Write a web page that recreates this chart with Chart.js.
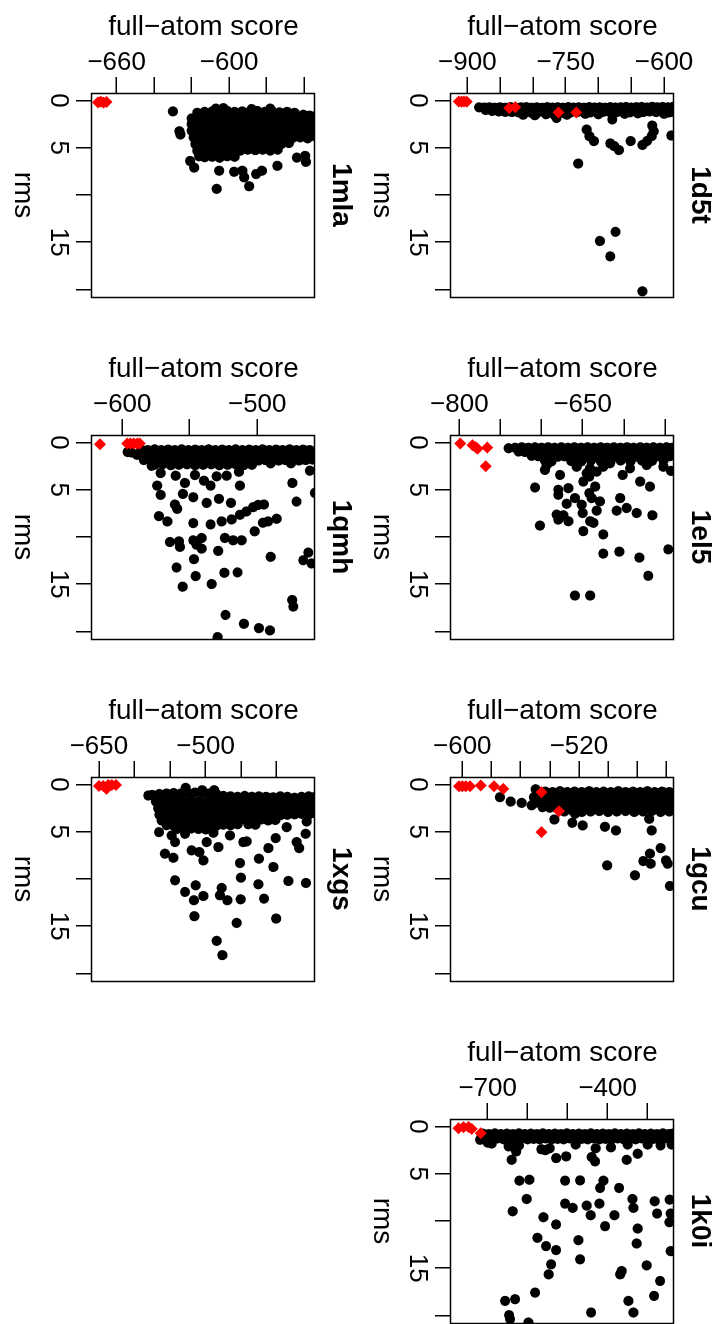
<!DOCTYPE html>
<html><head><meta charset="utf-8">
<script src="https://cdn.jsdelivr.net/npm/chart.js@4.4.0/dist/chart.umd.min.js"></script>
<style>
html,body{margin:0;padding:0;background:#fff;width:713px;height:1324px;overflow:hidden;}
#rot{position:absolute;left:0;top:0;width:1324px;height:713px;transform-origin:0 0;transform:translateX(713px) rotate(90deg);}
#rot canvas{position:absolute;}
</style></head><body><div id="rot"></div>
<script>
// ---------- axis ticks ----------
const rmsTicks = [0,5,10,15,20];
const rmsTickLabels = [0,5,15];
const rmsRange = [-0.8,20.8];

const ticks_1d5t = [-900,-850,-800,-750,-700,-650,-600], labels_1d5t = [-900,-750,-600], range_1d5t = [-924.9,-584.8];
const ticks_1el5 = [-800,-750,-700,-650,-600,-550], labels_1el5 = [-800,-650], range_1el5 = [-810.1,-539.0];
const ticks_1gcu = [-600,-580,-560,-540,-520,-500,-480,-460], labels_1gcu = [-600,-520], range_1gcu = [-607.75,-454.8];
const ticks_1k0i = [-700,-600,-500,-400,-300], labels_1k0i = [-700,-400], range_1k0i = [-791.75,-234.25];
const ticks_1mla = [-660,-640,-620,-600,-580,-560], labels_1mla = [-660,-600], range_1mla = [-673.2,-554.1];
const ticks_1qmh = [-600,-550,-500], labels_1qmh = [-600,-500], range_1qmh = [-622.4,-457.2];
const ticks_1xgs = [-650,-600,-550,-500,-450,-400], labels_1xgs = [-650,-500], range_1xgs = [-659.8,-346.2];

// ---------- data: [full-atom score, rms] ----------
const red_1d5t = [[-913,0.1],[-909,0.12],[-905,0.1],[-901,0.12],[-836,0.8],[-827,0.7],[-761,1.26],[-734,1.26]];
const black_1d5t = [
[-882,0.72],[-874,0.74],[-866,0.72],[-858,0.76],[-850,0.72],[-842,0.76],[-834,0.7],[-826,0.75],[-818,0.72],[-810,0.7],[-802,0.76],[-794,0.72],[-786,0.76],[-778,0.7],[-770,0.75],[-762,0.72],[-754,0.76],[-746,0.7],[-738,0.75],[-730,0.72],[-722,0.76],[-714,0.7],[-706,0.74],[-698,0.72],[-690,0.76],[-682,0.7],[-674,0.74],[-666,0.72],[-658,0.68],[-650,0.74],[-642,0.7],[-634,0.68],[-626,0.74],[-618,0.66],[-610,0.72],[-602,0.68],[-594,0.72],[-586,0.66],
[-872,1.0],[-862,1.1],[-852,1.15],[-842,1.2],[-832,1.22],[-822,1.25],[-812,1.22],[-802,1.3],[-792,1.25],[-782,1.22],[-772,1.3],[-762,1.25],[-752,1.35],[-742,1.25],[-732,1.22],[-722,1.2],[-712,1.25],[-702,1.22],[-692,1.18],[-682,1.25],[-672,1.22],[-662,1.18],[-652,1.25],[-642,1.18],[-632,1.22],[-622,1.15],[-612,1.22],[-602,1.18],[-592,1.25],[-586,1.18],
[-815,1.5],[-797,1.55],[-780,1.45],[-766,1.6],[-764,1.85],[-748,1.5],[-720,1.4],[-700,1.45],[-679,2.0],[-660,1.4],[-640,1.35],[-600,1.4],
[-718,3.07],[-714,3.77],[-707,4.29],[-682,4.54],[-676,4.82],[-669,5.24],[-651,4.29],[-633,4.7],[-626,4.29],[-619,3.77],[-616,3.25],[-618,2.65],[-589,3.7],[-731,6.67],[-698,14.87],[-674,13.9],[-682,16.5],[-633,20.2]
];

const red_1el5 = [[-799,0.1],[-784,0.28],[-780,0.5],[-778,0.65],[-766,0.53],[-768,2.5]];
const black_1el5 = [
[-740,0.6],[-732,0.55],[-724,0.5],[-716,0.55],[-708,0.5],[-700,0.55],[-692,0.5],[-684,0.55],[-676,0.5],[-668,0.55],[-660,0.5],[-652,0.55],[-644,0.5],[-636,0.55],[-628,0.5],[-620,0.55],[-612,0.5],[-604,0.55],[-596,0.5],[-588,0.55],[-580,0.5],[-572,0.55],[-564,0.5],[-556,0.55],[-548,0.5],[-541,0.55],
[-728,0.95],[-720,1.0],[-712,1.05],[-704,1.0],[-696,1.05],[-688,1.0],[-680,1.05],[-672,1.0],[-664,1.05],[-656,1.0],[-648,1.05],[-640,1.0],[-632,1.05],[-624,1.0],[-616,1.05],[-608,1.0],[-600,1.05],[-592,1.0],[-584,1.05],[-576,1.0],[-568,1.05],[-560,1.0],[-552,1.05],[-544,1.0],
[-712,1.4],[-704,1.45],[-696,1.5],[-688,1.45],[-680,1.5],[-672,1.45],[-664,1.5],[-656,1.45],[-648,1.5],[-640,1.45],[-632,1.5],[-624,1.45],[-616,1.5],[-608,1.45],[-600,1.5],[-592,1.45],[-584,1.5],[-576,1.45],[-568,1.5],[-560,1.45],[-552,1.5],[-544,1.45],
[-696,1.9],[-688,2.0],[-664,1.95],[-652,2.0],[-640,1.9],[-628,2.0],[-616,1.95],[-604,1.9],[-592,2.0],[-578,1.9],[-566,1.95],[-552,1.9],
[-693.8,2.38],[-695.9,2.9],[-677.6,3.43],[-708,4.76],[-679.7,5.0],[-679.7,5.53],[-667.5,4.83],[-669.5,6.48],[-681.7,7.63],[-679.7,8.16],[-673.6,7.7],[-667.5,8.33],[-702,8.79],[-659.4,5.88],[-651.3,6.58],[-650,7.46],[-649.3,4.13],[-645.2,3.26],[-642,3.6],[-635,4.66],[-642,5.36],[-639.1,5.88],[-629,6.23],[-633,7.21],[-637,8.5],[-641,8.33],[-649.3,9.38],[-625,9.73],[-625,11.76],[-605.5,11.55],[-604.6,5.88],[-608.7,7.21],[-596.6,6.93],[-601.5,3.43],[-584.4,7.46],[-580.3,4.13],[-568.2,4.66],[-565.3,7.7],[-581.2,12.18],[-570.3,14.11],[-546,11.31],[-542.7,3.0],[-659.4,16.2],[-641,16.2],[-657.4,2.56],[-641.2,2.73],[-625,2.56],[-633,3.08],[-616.9,2.2],[-592.5,2.73],[-572.3,2.38],[-552,2.56]
];

const red_1gcu = [[-602.3,0.18],[-600,0.18],[-597.7,0.18],[-594.7,0.18],[-587.4,0.1],[-578.3,0.18],[-571.9,0.46],[-545.6,0.81],[-533.7,2.82],[-545.6,5.04]];
const black_1gcu = [
[-574.2,1.34],[-566.9,1.8],[-559.3,1.94],[-552.5,2.2],[-549.7,0.5],
[-548,0.8],[-543,0.75],[-538,0.8],[-533,0.7],[-528,0.8],[-523,0.75],[-518,0.8],[-513,0.7],[-508,0.8],[-503,0.75],[-498,0.8],[-493,0.7],[-488,0.8],[-483,0.75],[-478,0.8],[-473,0.7],[-468,0.8],[-463,0.75],[-458,0.8],
[-551,1.35],[-546,1.3],[-541,1.4],[-536,1.35],[-531,1.3],[-526,1.4],[-521,1.35],[-516,1.3],[-511,1.4],[-506,1.35],[-501,1.3],[-496,1.4],[-491,1.35],[-486,1.3],[-481,1.4],[-476,1.35],[-471,1.3],[-466,1.4],[-461,1.35],[-456,1.3],
[-549,1.9],[-544,1.85],[-539,1.95],[-534,1.9],[-529,1.85],[-524,1.95],[-519,1.9],[-514,1.85],[-509,1.95],[-504,1.9],[-499,1.85],[-494,1.95],[-489,1.9],[-484,1.85],[-479,1.95],[-474,1.9],[-469,1.85],[-464,1.95],[-459,1.9],[-456,1.85],
[-545,2.4],[-540,2.45],[-535,2.5],[-530,2.4],[-525,2.45],[-520,2.5],[-515,2.4],[-510,2.45],[-505,2.5],[-500,2.4],[-495,2.45],[-490,2.5],[-485,2.4],[-480,2.45],[-475,2.5],[-470,2.4],[-465,2.45],[-460,2.5],[-456,2.4],
[-530,2.85],[-524,2.8],[-518,2.9],[-512,2.85],[-506,2.8],[-500,2.9],[-494,2.85],[-488,2.8],[-482,2.9],[-476,2.85],[-470,2.8],[-464,2.9],[-458,2.85],
[-536.9,3.7],[-524.6,4.05],[-517.5,4.33],[-502.2,4.47],[-494.6,4.86],[-500.6,8.56],[-481.6,9.61],[-471.8,3.63],[-470.2,4.86],[-464,6.73],[-471.4,7.32],[-470.9,8.38],[-475.9,8.1],[-460.3,8.03],[-459.2,8.38],[-457.6,10.74],[-522.7,3.1]
];

const red_1k0i = [[-773.3,0.18],[-760.8,0.07],[-748.3,0.05],[-740,0.25],[-717.5,0.7]];
const black_1k0i = [
[-715,0.88],[-719,1.4],
[-712,0.75],[-697,0.8],[-682,0.72],[-667,0.8],[-652,0.75],[-637,0.8],[-622,0.72],[-607,0.8],[-592,0.75],[-577,0.8],[-562,0.72],[-547,0.8],[-532,0.75],[-517,0.8],[-502,0.72],[-487,0.8],[-472,0.75],[-457,0.8],[-442,0.72],[-427,0.8],[-412,0.75],[-397,0.8],[-382,0.72],[-367,0.8],[-352,0.75],[-337,0.8],[-322,0.72],[-307,0.8],[-292,0.75],[-277,0.8],[-262,0.72],[-247,0.8],[-238,0.75],
[-705,1.3],[-690,1.35],[-675,1.25],[-660,1.35],[-645,1.3],[-630,1.35],[-615,1.25],[-600,1.35],[-585,1.3],[-570,1.35],[-555,1.25],[-540,1.35],[-525,1.3],[-510,1.35],[-495,1.25],[-480,1.35],[-465,1.3],[-450,1.35],[-435,1.25],[-420,1.35],[-405,1.3],[-390,1.35],[-375,1.25],[-360,1.35],[-345,1.3],[-330,1.35],[-315,1.25],[-300,1.35],[-285,1.3],[-270,1.35],[-255,1.25],[-240,1.35],
[-700,1.7],[-690,1.8],[-648,2.1],[-635,2.2],[-622,2.0],[-566,2.4],[-556,2.5],[-545,2.3],[-480,1.9],[-430,2.3],[-392,2.2],[-350,1.9],[-300,1.9],[-268,2.0],[-240,1.9],
[-640,3.52],[-629,2.64],[-529,3.34],[-504,3.16],[-440,3.23],[-431.7,3.69],[-352.5,3.52],[-325,2.88],
[-620.8,5.73],[-595.8,5.63],[-506.7,5.73],[-469.2,5.7],[-410.8,5.73],[-419.2,6.5],[-371.7,6.5],
[-602.5,7.67],[-637.5,8.97],[-506.7,8.16],[-487.5,8.61],[-452.5,8.37],[-442.5,9.39],[-420.8,8.16],[-383.3,9.39],[-338.3,7.67],[-335.8,8.61],[-282.5,7.91],[-276.7,9.21],[-245,7.74],[-242.5,9.21],
[-560.8,9.6],[-529.2,10.37],[-406.7,10.55],[-325,10.8],[-245.8,10.13],
[-575.8,11.78],[-554.2,12.66],[-529.2,13.08],[-473.3,12.03],[-327.5,12.38],[-242.5,13.19],
[-541.7,14.59],[-547.5,15.65],[-469.2,14.06],[-365,15.3],[-369,15.65],[-302.5,14.7],[-269.2,16.35],
[-581.7,17.58],[-284.2,17.93],[-656.7,18.46],[-631.7,18.28],[-348.3,18.46],
[-646.7,19.97],[-644.2,20.4],[-598.3,20.75],[-441.7,19.69],[-335.8,19.69]
];

const red_1mla = [[-670,0.2],[-668.5,0.12],[-667,0.22],[-665.5,0.15]];
const black_1mla = [
[-607,0.85],[-603,0.8],[-588,0.9],[-578,0.85],
[-617,1.3],[-613,1.2],[-609,1.15],[-605,1.2],[-601,1.1],[-597,1.2],[-593,1.15],[-589,1.2],[-585,1.1],[-581,1.2],[-577,1.15],[-573,1.25],[-569,1.2],[-565,1.3],
[-620,1.9],[-617,1.8],[-613,1.85],[-609,1.9],[-605,1.8],[-601,1.85],[-597,1.9],[-593,1.8],[-589,1.85],[-585,1.9],[-581,1.8],[-577,1.85],[-573,1.9],[-569,1.8],[-565,1.85],[-561,1.7],[-557,1.6],[-554,1.65],
[-620,2.5],[-617,2.55],[-614,2.45],[-610,2.5],[-606,2.55],[-602,2.45],[-598,2.5],[-594,2.55],[-590,2.45],[-586,2.5],[-582,2.55],[-578,2.45],[-574,2.5],[-570,2.55],[-566,2.45],[-562,2.5],[-558,2.4],[-554,2.5],
[-620,3.2],[-617,3.15],[-613,3.25],[-609,3.2],[-605,3.15],[-601,3.25],[-597,3.2],[-593,3.15],[-589,3.25],[-585,3.2],[-581,3.15],[-577,3.25],[-573,3.2],[-569,3.15],[-565,3.25],[-561,3.2],[-557,3.3],[-554,3.2],
[-619,3.9],[-617,3.85],[-614,3.95],[-610,3.9],[-606,3.85],[-602,3.95],[-598,3.9],[-594,3.85],[-590,3.95],[-586,3.9],[-582,3.85],[-578,3.95],[-574,3.9],[-570,3.85],[-566,3.95],[-562,3.9],[-558,4.0],[-554,3.8],
[-618,4.6],[-616,4.55],[-612,4.65],[-608,4.6],[-604,4.55],[-600,4.65],[-596,4.6],[-592,4.55],[-588,4.65],[-584,4.6],[-580,4.55],[-576,4.65],[-572,4.6],[-568,4.5],
[-617,5.3],[-614,5.35],[-610,5.25],[-606,5.3],[-602,5.35],[-598,5.25],[-594,5.3],[-590,5.2],[-586,5.25],[-582,5.2],[-578,5.3],[-574,5.2],
[-616,5.9],[-613,6.0],[-609,5.95],[-605,6.05],[-601,5.9],[-597,5.95],
[-630,1.15],[-626.5,3.25],[-626,3.6],[-620.8,6.4],[-618.7,7.1],[-606.6,9.35],[-605.3,7.43],[-597.3,7.54],[-592.9,7.43],[-592,8.13],[-589.3,9.07],[-585.6,7.78],[-582.5,7.43],[-574.2,6.91],[-563.8,6.04],[-559,6.49],[-559.4,5.86],[-560.3,1.5]
];

const red_1qmh = [[-616.5,0.18],[-596.3,0.1],[-593.8,0.1],[-591.4,0.1],[-588.9,0.1],[-587,0.1]];
const black_1qmh = [
[-596,1.0],[-593,1.05],
[-586,0.75],[-581,0.8],[-576,0.72],[-571,0.8],[-566,0.75],[-561,0.8],[-556,0.72],[-551,0.8],[-546,0.75],[-541,0.8],[-536,0.72],[-531,0.8],[-526,0.75],[-521,0.8],[-516,0.72],[-511,0.8],[-506,0.75],[-501,0.8],[-496,0.72],[-491,0.8],[-486,0.75],[-481,0.8],[-476,0.72],[-471,0.8],[-466,0.75],[-461,0.8],
[-589,1.3],[-584,1.35],[-579,1.25],[-574,1.35],[-569,1.3],[-564,1.35],[-559,1.25],[-554,1.35],[-549,1.3],[-544,1.35],[-539,1.25],[-534,1.35],[-529,1.3],[-524,1.35],[-519,1.25],[-514,1.35],[-509,1.3],[-504,1.35],[-499,1.25],[-494,1.35],[-489,1.3],[-484,1.35],[-479,1.25],[-474,1.35],[-469,1.3],[-464,1.35],[-459,1.25],
[-584,1.85],[-579,1.8],[-574,1.9],[-569,1.85],[-564,1.8],[-559,1.9],[-554,1.85],[-549,1.8],[-544,1.9],[-539,1.85],[-534,1.8],[-529,1.9],[-524,1.85],[-519,1.8],[-514,1.9],[-509,1.85],[-504,1.8],[-499,1.9],[-494,1.85],[-489,1.8],[-484,1.9],[-479,1.85],[-474,1.8],[-469,1.9],[-464,1.85],[-459,1.8],
[-576,2.35],[-570,2.3],[-564,2.4],[-558,2.35],[-552,2.3],[-546,2.4],[-540,2.35],[-534,2.3],[-528,2.4],[-522,2.35],[-516,2.3],[-510,2.4],[-504,2.35],[-490,2.2],[-475,2.2],
[-578.3,2.46],[-571.6,3.23],[-560.5,3.51],[-553.6,4.28],[-546.2,3.44],[-539.5,4.04],[-534.6,4.56],[-530.1,3.58],[-522.7,3.51],[-513.6,3.09],[-512.8,4.56],
[-574.1,4.56],[-571.6,5.54],[-555.1,5.44],[-547.4,5.79],[-537.5,6.39],[-528.4,5.96],[-519.5,6.39],[-561,6.56],[-559.3,7.02],
[-572.8,7.79],[-566.6,8.35],[-547.4,8.53],[-534.6,8.67],[-526.4,8.35],[-519,8.14],[-512.8,7.65],[-508,7.3],[-503,6.84],[-499.3,6.6],[-495,6.56],
[-502,9.4],[-495.8,8.49],[-492,8.35],[-485.7,8.07],[-474,4.28],[-470.9,6.25],
[-564.7,10.53],[-558,10.46],[-557.3,11.05],[-547.4,10.35],[-541.2,10.11],[-545,10.81],[-541.2,11.23],[-528.9,11.47],[-524,10.1],[-517.8,10.35],[-511.6,10.35],
[-546.9,12.35],[-559.8,13.23],[-545.7,14.14],[-533.8,14.98],[-555.3,15.26],[-524.4,13.79],[-514.6,13.75],
[-490.1,12.1],[-465.9,12.46],[-462.2,11.65],[-459.8,12.8],[-474.1,16.67],[-473.3,17.37],
[-523.5,18.25],[-509.9,19.19],[-498.8,19.65],[-490.6,19.89],[-529.4,20.6],[-457.3,5.33],[-461,2.98]
];

const red_1xgs = [[-650,0.15],[-644,0.15],[-639.5,0.45],[-637,0.05],[-632,0.05],[-626,0.05]];
const black_1xgs = [
[-580.6,1.16],[-528,0.35],[-505,0.6],[-488,0.6],
[-575,1.1],[-565,1.0],[-555,0.95],[-545,0.9],[-535,0.95],[-525,0.9],[-515,0.85],[-505,0.9],[-495,0.95],[-485,1.0],
[-475,1.2],[-465,1.25],[-455,1.3],[-445,1.2],[-435,1.3],[-425,1.25],[-415,1.3],[-405,1.35],[-395,1.25],[-385,1.3],[-375,1.4],[-365,1.3],[-355,1.25],[-348,1.35],
[-570,1.8],[-560,1.85],[-550,1.75],[-540,1.8],[-530,1.85],[-520,1.75],[-510,1.8],[-500,1.85],[-490,1.75],[-480,1.8],[-470,1.85],[-460,1.75],[-450,1.8],[-440,1.85],[-430,1.75],[-420,1.8],[-410,1.85],[-400,1.75],[-390,1.8],[-380,1.85],[-370,1.75],[-360,1.8],[-350,1.85],
[-567,2.5],[-557,2.45],[-547,2.55],[-537,2.5],[-527,2.45],[-517,2.55],[-507,2.5],[-497,2.45],[-487,2.55],[-477,2.5],[-467,2.45],[-457,2.55],[-447,2.5],[-437,2.45],[-427,2.55],[-417,2.5],[-407,2.45],[-397,2.55],[-387,2.5],[-377,2.45],[-367,2.55],[-357,2.5],[-347,2.45],
[-565,3.2],[-555,3.15],[-545,3.25],[-535,3.2],[-525,3.15],[-515,3.25],[-505,3.2],[-495,3.15],[-485,3.25],[-475,3.2],[-465,3.15],[-455,3.25],[-445,3.2],[-435,3.15],[-425,3.25],[-415,3.2],[-405,3.15],[-395,3.25],[-385,3.2],[-375,3.15],[-365,3.1],[-355,3.2],[-348,3.0],
[-562,3.8],[-552,3.85],[-542,3.75],[-532,3.8],[-522,3.85],[-512,3.75],[-502,3.8],[-492,3.85],[-482,3.75],[-472,3.8],[-462,3.85],[-452,3.75],[-442,3.8],[-432,3.85],[-422,3.7],[-412,3.8],[-402,3.75],
[-555,4.3],[-545,4.35],[-535,4.25],[-525,4.3],[-515,4.35],[-505,4.25],[-495,4.3],[-485,4.35],[-475,4.25],[-465,4.3],[-455,4.2],[-440,4.2],[-430,4.25],
[-540,4.7],[-530,4.75],[-520,4.65],[-510,4.7],[-500,4.75],[-490,4.65],
[-565.6,5.04],[-547.8,5.39],[-543.1,6.09],[-557.2,7.32],[-545.5,7.75],[-529,5.21],[-519.7,6.97],[-508.9,7.15],[-503.3,8.03],[-498.6,6.09],[-482.2,6.62],[-489.2,5.1],[-465.8,5.39],[-451.7,8.31],[-450.3,9.86],[-442.3,6.02],[-447,6.09],[-425,7.85],[-411.8,6.73],[-404.8,8.73],[-401.5,5.67],[-386,4.51],[-372,6.09],[-368.4,6.73],[-359.3,5.21],[-358,3.91],
[-383.7,10.21],[-359,10.42],[-543.1,10.14],[-529,11.37],[-514,10.67],[-516.4,12.25],[-503.3,11.8],[-477.5,10.95],[-479.9,11.73],[-469.5,12.25],[-450.8,12.15],[-425.9,10.56],[-417.9,12.08],
[-515.9,13.94],[-456.4,14.65],[-401,14.19],[-484.5,16.55],[-476.5,18.06]
];

// ---------- panels (mfrow 2 x 4, whole figure turned a quarter turn) ----------
const panelNames = ['1d5t','1el5','1gcu','1k0i','1mla','1qmh','1xgs'];
const panelRed = [red_1d5t, red_1el5, red_1gcu, red_1k0i, red_1mla, red_1qmh, red_1xgs];
const panelBlack = [black_1d5t, black_1el5, black_1gcu, black_1k0i, black_1mla, black_1qmh, black_1xgs];
const panelTicks = [ticks_1d5t, ticks_1el5, ticks_1gcu, ticks_1k0i, ticks_1mla, ticks_1qmh, ticks_1xgs];
const panelLabels = [labels_1d5t, labels_1el5, labels_1gcu, labels_1k0i, labels_1mla, labels_1qmh, labels_1xgs];
const panelRanges = [range_1d5t, range_1el5, range_1gcu, range_1k0i, range_1mla, range_1qmh, range_1xgs];

Chart.defaults.font.family = "'Liberation Sans', Arial, Helvetica, sans-serif";
Chart.defaults.color = '#000';

const fmt = v => (v < 0 ? '\u2212' + Math.abs(v) : String(v));

const boxPlugin = {
  id: 'rbox',
  afterDatasetsDraw(chart) {
    const {ctx, chartArea: a} = chart;
    ctx.save();
    ctx.strokeStyle = '#000';
    ctx.lineWidth = 1.5;
    ctx.strokeRect(Math.round(a.left) + 0.5, Math.round(a.top) + 0.5, Math.round(a.right - a.left), Math.round(a.bottom - a.top));
    ctx.restore();
  }
};

const rot = document.getElementById('rot');
const W = 334, H = 383;

panelNames.forEach((name, i) => {
  const col = i % 4, row = Math.floor(i / 4);
  const boxLeft = 93 + 342 * col, boxTop = 39 + 359 * row;
  const cv = document.createElement('canvas');
  cv.width = W; cv.height = H;
  cv.style.width = W + 'px'; cv.style.height = H + 'px';
  cv.style.left = (boxLeft - 100) + 'px';
  cv.style.top = (boxTop - 60) + 'px';
  rot.appendChild(cv);
  const sTicks = panelTicks[i], sLabels = panelLabels[i], sRange = panelRanges[i];
  new Chart(cv, {
    type: 'scatter',
    data: {
      datasets: [
        { data: panelRed[i].map(p => ({x: p[1], y: p[0]})), pointStyle: 'rectRot', pointRadius: 6,
          backgroundColor: '#ff0000', borderColor: '#ff0000', pointBorderWidth: 0, clip: 0 },
        { data: panelBlack[i].map(p => ({x: p[1], y: p[0]})), pointStyle: 'circle', pointRadius: 5.1,
          backgroundColor: '#000', borderColor: '#000', pointBorderWidth: 0, clip: 0 }
      ]
    },
    options: {
      responsive: false, animation: false, devicePixelRatio: 1,
      events: [],
      layout: { padding: { left: 0, right: 30, top: 0, bottom: 0 } },
      plugins: {
        legend: { display: false },
        tooltip: { enabled: false },
        title: { display: true, text: name, fullSize: false, color: '#000',
                 font: { size: 28, weight: 'bold' }, padding: { top: 17.2, bottom: 9.2 } }
      },
      scales: {
        x: {
          type: 'linear', position: 'bottom', min: rmsRange[0], max: rmsRange[1],
          afterBuildTicks: s => { s.ticks = rmsTicks.map(v => ({value: v})); },
          afterFit: s => { s.height = 100; },
          ticks: { autoSkip: false, minRotation: 0, maxRotation: 0, padding: 2.7, color: '#000',
                   font: { size: 26 }, callback: v => (rmsTickLabels.includes(v) ? String(v) : '') },
          grid: { drawOnChartArea: false, drawTicks: true, tickLength: 16, color: '#000', lineWidth: 1.5 },
          border: { display: false },
          title: { display: true, text: 'rms', color: '#000', font: { size: 28 }, padding: { top: 0, bottom: 13.6 } }
        },
        y: {
          type: 'linear', position: 'left', min: sRange[0], max: sRange[1],
          afterBuildTicks: s => { s.ticks = sTicks.map(v => ({value: v})); },
          afterFit: s => { s.width = 100; },
          ticks: { autoSkip: false, minRotation: 90, maxRotation: 90, crossAlign: 'center', padding: -14.7,
                   color: '#000', font: { size: 26 }, callback: v => (sLabels.includes(v) ? fmt(v) : '') },
          grid: { drawOnChartArea: false, drawTicks: true, tickLength: 16, color: '#000', lineWidth: 1.5 },
          border: { display: false },
          title: { display: true, text: 'full\u2212atom score', color: '#000', font: { size: 28 }, padding: { top: 17.2, bottom: 0 } }
        }
      }
    },
    plugins: [boxPlugin]
  });
});
</script>
</body></html>
